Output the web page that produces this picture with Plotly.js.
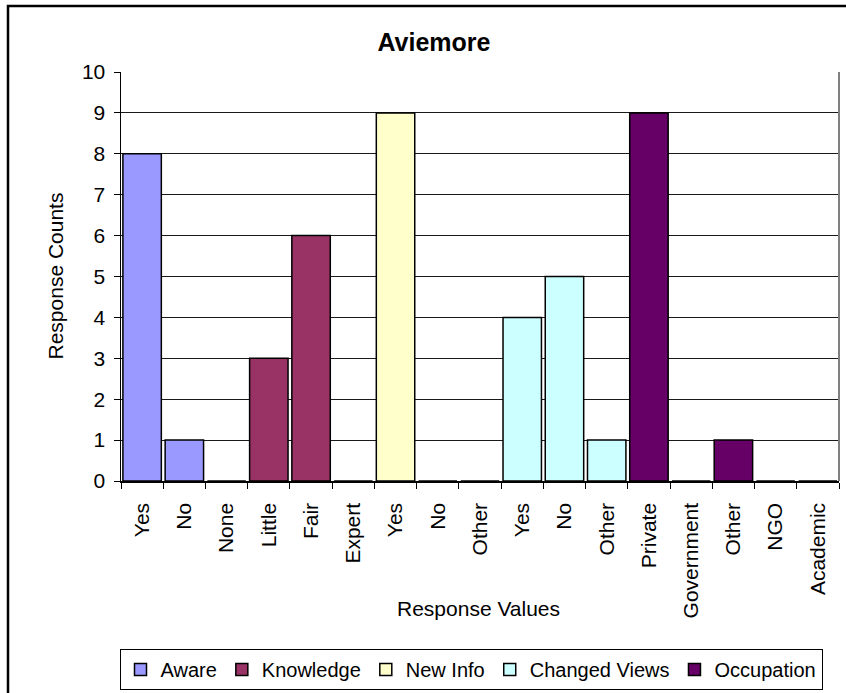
<!DOCTYPE html>
<html>
<head>
<meta charset="utf-8">
<script src="https://cdn.plot.ly/plotly-3.0.1.min.js"></script>
<style>
  html, body { margin: 0; padding: 0; background: #ffffff; }
  #chart { width: 846px; height: 693px; }
</style>
</head>
<body>
<div id="chart"></div>
<script>
// Survey responses for Aviemore, one group per question
const seriesNames = ['Aware', 'Knowledge', 'New Info', 'Changed Views', 'Occupation'];

const awareLabels = ['Yes', 'No'];
const awareCounts = [8, 1];

const knowledgeLabels = ['None', 'Little', 'Fair', 'Expert'];
const knowledgeCounts = [0, 3, 6, 0];

const newInfoLabels = ['Yes', 'No', 'Other'];
const newInfoCounts = [9, 0, 0];

const changedLabels = ['Yes', 'No', 'Other'];
const changedCounts = [4, 5, 1];

const occupationLabels = ['Private', 'Government', 'Other', 'NGO', 'Academic'];
const occupationCounts = [9, 0, 1, 0, 0];

const seriesColors = ['#9999FF', '#993366', '#FFFFCC', '#CCFFFF', '#660066'];

const groups = [
  [awareLabels, awareCounts],
  [knowledgeLabels, knowledgeCounts],
  [newInfoLabels, newInfoCounts],
  [changedLabels, changedCounts],
  [occupationLabels, occupationCounts]
];

const FONT = 'Liberation Sans, Arial, sans-serif';

// Each bar gets a unique category key; the visible tick text is the answer label.
const allKeys = [];
const allText = [];
const traces = groups.map(([labels, counts], i) => {
  const keys = labels.map(l => seriesNames[i] + ' | ' + l);
  keys.forEach((k, j) => { allKeys.push(k); allText.push(labels[j]); });
  return {
    type: 'bar',
    name: seriesNames[i],
    x: keys,
    y: counts,
    marker: { color: seriesColors[i], line: { color: '#000000', width: 1.5 } },
    hoverinfo: 'skip'
  };
});

const W = 846, H = 693;
const mL = 121, mR = 7, mT = 72, mB = 212;
const pw = W - mL - mR, ph = H - mT - mB;
const px = v => (v - mL) / pw;           // page x -> paper x
const py = v => (H - mB - v) / ph;       // page y -> paper y

const layout = {
  width: W,
  height: H,
  margin: { l: mL, r: mR, t: mT, b: mB, pad: 0, autoexpand: false },
  paper_bgcolor: '#ffffff',
  plot_bgcolor: '#ffffff',
  barmode: 'overlay',
  bargap: 0.09,
  font: { family: FONT, color: '#000000', size: 21 },
  title: {
    text: '<b>Aviemore</b>',
    font: { family: FONT, size: 25, color: '#000000' },
    xref: 'container', yref: 'container',
    x: 434 / W, xanchor: 'center',
    y: 1 - 42 / H, yanchor: 'middle'
  },
  xaxis: {
    type: 'category',
    categoryorder: 'array',
    categoryarray: allKeys,
    tickmode: 'array',
    tickvals: allKeys,
    ticktext: allText,
    tickangle: -90,
    tickson: 'boundaries',
    ticks: 'outside',
    ticklen: 6,
    tickcolor: '#000000',
    tickwidth: 1,
    ticklabelstandoff: 12,
    tickfont: { family: FONT, size: 21, color: '#000000' },
    showline: true,
    linecolor: '#000000',
    linewidth: 1.5,
    showgrid: false,
    zeroline: false,
    automargin: false,
    fixedrange: true
  },
  yaxis: {
    range: [0, 10],
    dtick: 1,
    tick0: 0,
    ticks: 'outside',
    ticklen: 6,
    tickcolor: '#000000',
    tickwidth: 1,
    ticklabelstandoff: 4,
    tickfont: { family: FONT, size: 21, color: '#000000' },
    showline: true,
    linecolor: '#000000',
    linewidth: 1.5,
    showgrid: true,
    gridcolor: '#1a1a1a',
    gridwidth: 1,
    zeroline: false,
    automargin: false,
    fixedrange: true
  },
  showlegend: true,
  legend: {
    orientation: 'h',
    x: px(471), xanchor: 'center',
    y: py(649), yanchor: 'top',
    bordercolor: '#000000',
    borderwidth: 1,
    bgcolor: '#ffffff',
    font: { family: FONT, size: 20, color: '#000000' },
    traceorder: 'normal'
  },
  annotations: [
    {
      text: 'Response Values',
      xref: 'paper', yref: 'paper',
      x: px(478), y: py(608),
      xanchor: 'center', yanchor: 'middle',
      showarrow: false,
      font: { family: FONT, size: 21, color: '#000000' }
    },
    {
      text: 'Response Counts',
      xref: 'paper', yref: 'paper',
      x: px(55), y: 0.5,
      xanchor: 'center', yanchor: 'middle',
      textangle: -90,
      showarrow: false,
      font: { family: FONT, size: 21, color: '#000000' }
    }
  ],
  shapes: [
    // chart frame
    {
      type: 'rect', xref: 'paper', yref: 'paper',
      x0: px(8), x1: px(852), y0: py(699), y1: py(6),
      line: { color: '#000000', width: 2.5 },
      fillcolor: 'rgba(0,0,0,0)', layer: 'above'
    },
    // plot area right edge
    {
      type: 'line', xref: 'paper', yref: 'paper',
      x0: 1, x1: 1, y0: 0, y1: 1,
      line: { color: '#808080', width: 2 }, layer: 'above'
    }
  ]
};

Plotly.newPlot('chart', traces, layout, { staticPlot: true, displayModeBar: false });
</script>
</body>
</html>
